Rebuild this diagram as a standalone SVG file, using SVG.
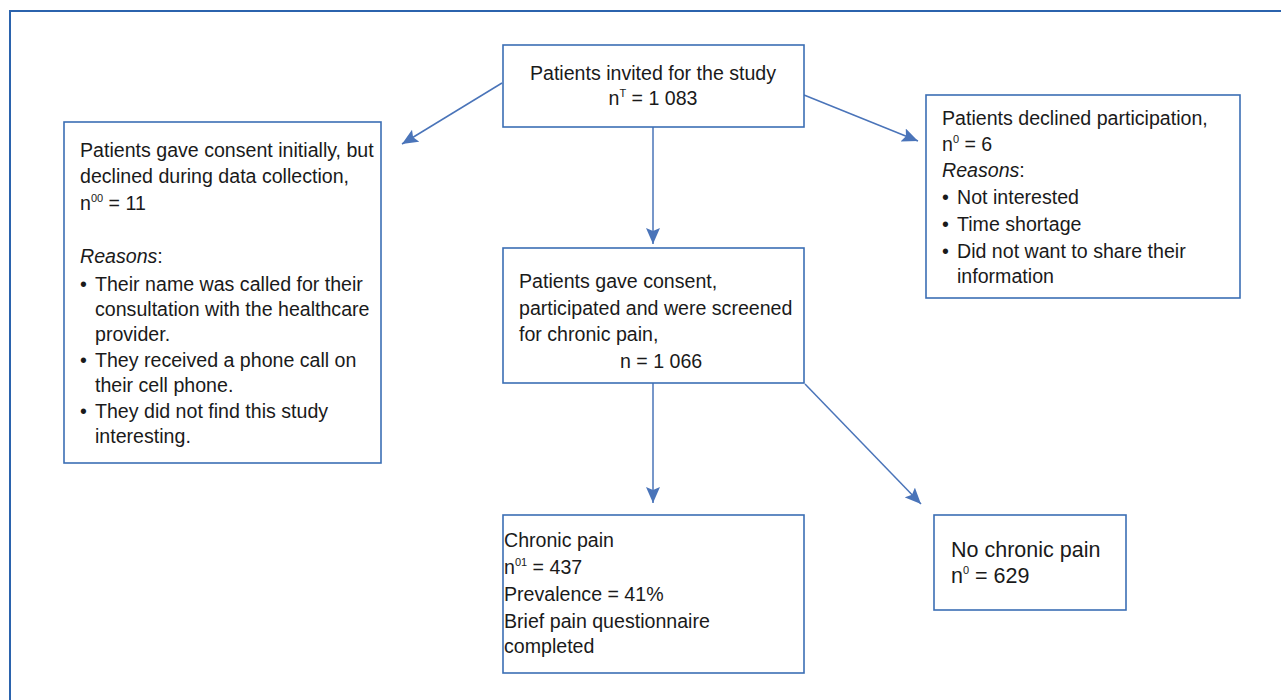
<svg xmlns="http://www.w3.org/2000/svg" width="1281" height="700" viewBox="0 0 1281 700">
<defs>
<marker id="ah" markerUnits="userSpaceOnUse" markerWidth="17" markerHeight="15" refX="16" refY="7" orient="auto">
<path d="M0,0 L16,7 L0,14 L3,7 z" fill="#4a74b9"/>
</marker>
<style>
.box{fill:#fff;stroke:#3b6eb4;stroke-width:1.6}
.t{font-family:"Liberation Sans",Arial,sans-serif;font-size:19.6px;fill:#1a1a1a}
.big{font-size:21.5px}
.sup{font-size:11px}
.con{stroke:#4a74b9;stroke-width:1.5;fill:none;marker-end:url(#ah)}
</style>
</defs>
<rect x="0" y="0" width="1281" height="700" fill="#fff"/>
<rect x="10" y="11" width="1290" height="710" fill="none" stroke="#2b63ad" stroke-width="2"/>
<g id="connectors">
<line class="con" x1="502" y1="83" x2="402" y2="144"/>
<line class="con" x1="804" y1="95" x2="918" y2="141"/>
<line class="con" x1="653" y1="127" x2="653" y2="244"/>
<line class="con" x1="653" y1="383" x2="653" y2="503"/>
<line class="con" x1="805" y1="384" x2="921" y2="504"/>
</g>
<g id="invited">
<rect class="box" x="503" y="45" width="301" height="82"/>
<text class="t" x="653" y="80" text-anchor="middle">Patients invited for the study</text>
<text class="t" x="653" y="105" text-anchor="middle">n<tspan class="sup" dy="-8">T</tspan><tspan dy="8"> = 1 083</tspan></text>
</g>
<g id="declined-later">
<rect class="box" x="64" y="122" width="317" height="341"/>
<text class="t" x="80" y="157">Patients gave consent initially, but</text>
<text class="t" x="80" y="183">declined during data collection,</text>
<text class="t" x="80" y="210">n<tspan class="sup" dy="-8">00</tspan><tspan dy="8"> = 11</tspan></text>
<text class="t" x="80" y="263"><tspan font-style="italic">Reasons</tspan>:</text>
<text class="t" x="80" y="291">•</text>
<text class="t" x="95" y="291">Their name was called for their</text>
<text class="t" x="95" y="316">consultation with the healthcare</text>
<text class="t" x="95" y="341">provider.</text>
<text class="t" x="80" y="367">•</text>
<text class="t" x="95" y="367">They received a phone call on</text>
<text class="t" x="95" y="392">their cell phone.</text>
<text class="t" x="80" y="418">•</text>
<text class="t" x="95" y="418">They did not find this study</text>
<text class="t" x="95" y="443">interesting.</text>
</g>
<g id="declined">
<rect class="box" x="926" y="95" width="314" height="203"/>
<text class="t" x="942" y="125">Patients declined participation,</text>
<text class="t" x="942" y="151">n<tspan class="sup" dy="-8">0</tspan><tspan dy="8"> = 6</tspan></text>
<text class="t" x="942" y="177"><tspan font-style="italic">Reasons</tspan>:</text>
<text class="t" x="942" y="204">•</text>
<text class="t" x="957" y="204">Not interested</text>
<text class="t" x="942" y="231">•</text>
<text class="t" x="957" y="231">Time shortage</text>
<text class="t" x="942" y="258">•</text>
<text class="t" x="957" y="258">Did not want to share  their</text>
<text class="t" x="957" y="283">information</text>
</g>
<g id="screened">
<rect class="box" x="503" y="248" width="301" height="135"/>
<text class="t" x="519" y="288">Patients gave consent,</text>
<text class="t" x="519" y="315">participated and were screened</text>
<text class="t" x="519" y="341">for chronic pain,</text>
<text class="t" x="620" y="368">n = 1 066</text>
</g>
<g id="chronic">
<rect class="box" x="503" y="515" width="301" height="158"/>
<text class="t" x="504" y="547">Chronic pain</text>
<text class="t" x="504" y="574">n<tspan class="sup" dy="-8">01</tspan><tspan dy="8"> = 437</tspan></text>
<text class="t" x="504" y="601">Prevalence = 41%</text>
<text class="t" x="504" y="628">Brief pain questionnaire</text>
<text class="t" x="504" y="653">completed</text>
</g>
<g id="no-chronic">
<rect class="box" x="934" y="515" width="192" height="95"/>
<text class="t big" x="951" y="557">No chronic pain</text>
<text class="t big" x="951" y="583">n<tspan class="sup" dy="-9">0</tspan><tspan dy="9"> = 629</tspan></text>
</g>
</svg>
